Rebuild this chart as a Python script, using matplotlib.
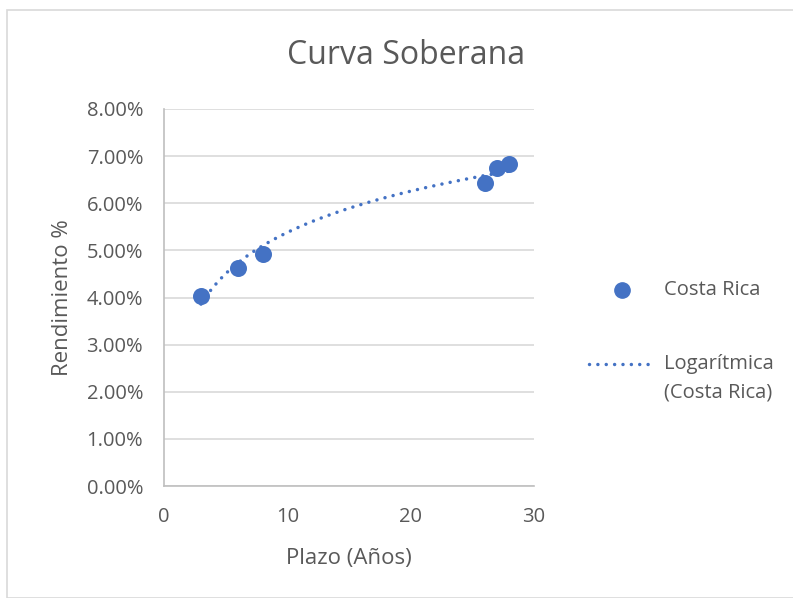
import matplotlib.pyplot as plt
import numpy as np
from matplotlib.patches import Rectangle
from matplotlib.lines import Line2D
from matplotlib.ticker import PercentFormatter

plazo = np.array([3, 6, 8, 26, 27, 28])
rendimiento = np.array([4.03, 4.63, 4.93, 6.43, 6.75, 6.83])
x_ticks = [0, 10, 20, 30]
y_ticks = [0, 1, 2, 3, 4, 5, 6, 7, 8]
legend_labels = ["Costa Rica", "Logarítmica\n(Costa Rica)"]

plt.rcParams['font.family'] = ['Open Sans', 'DejaVu Sans']
grey = "#595959"
blue = "#4472C4"
dots = (0, (0.01, 2.4))

fig = plt.figure(figsize=(7.93, 5.98), dpi=100)
fig.patches.append(Rectangle((7 / 793, 0), 1, 1 - 10 / 598, transform=fig.transFigure,
                             fill=False, edgecolor="#d9d9d9", linewidth=1.2))
ax = fig.add_axes([164 / 793, 112 / 598, 370 / 793, 377 / 598])

# logarithmic trendline, like Excel's
a, b = np.polyfit(np.log(plazo), rendimiento, 1)
xt = np.linspace(plazo.min(), plazo.max(), 200)
ax.plot(xt, a * np.log(xt) + b, color=blue, linestyle=dots, linewidth=2.5,
        dash_capstyle="round", zorder=2)
ax.scatter(plazo, rendimiento, s=150, color=blue, zorder=3, linewidths=0)

ax.set_xlim(0, 30)
ax.set_ylim(0, 8)
ax.set_xticks(x_ticks)
ax.set_yticks(y_ticks)
ax.yaxis.set_major_formatter(PercentFormatter(decimals=2))
ax.grid(axis="y", color="#d9d9d9", linewidth=1.2)
ax.set_axisbelow(True)
for s in ["top", "right"]:
    ax.spines[s].set_visible(False)
for s in ["left", "bottom"]:
    ax.spines[s].set_color("#bfbfbf")
    ax.spines[s].set_linewidth(1.2)
ax.tick_params(length=0, labelsize=14.5, colors=grey, pad=15)

fig.text(406 / 793, 1 - 55 / 598, "Curva Soberana", fontsize=23, color=grey,
         ha="center", va="center")
ax.set_xlabel("Plazo (Años)", fontsize=16, color=grey, labelpad=15)
ax.set_ylabel("Rendimiento %", fontsize=16, color=grey, labelpad=10)

# legend, drawn by hand to place the handle next to the first line of text
fig.add_artist(Line2D([622 / 793], [1 - 290 / 598], marker="o", color=blue,
                      markersize=11, linestyle="", transform=fig.transFigure))
fig.text(664 / 793, 1 - 290 / 598, legend_labels[0], fontsize=14.5, color=grey, va="center")
fig.add_artist(Line2D([589 / 793, 655 / 793], [1 - 364 / 598] * 2, color=blue,
                      linestyle=dots, linewidth=2.5, dash_capstyle="round",
                      transform=fig.transFigure))
fig.text(664 / 793, 1 - 354 / 598, legend_labels[1], fontsize=14.5, color=grey,
         va="top", linespacing=1.55)

fig.savefig("out.png", dpi=100)
